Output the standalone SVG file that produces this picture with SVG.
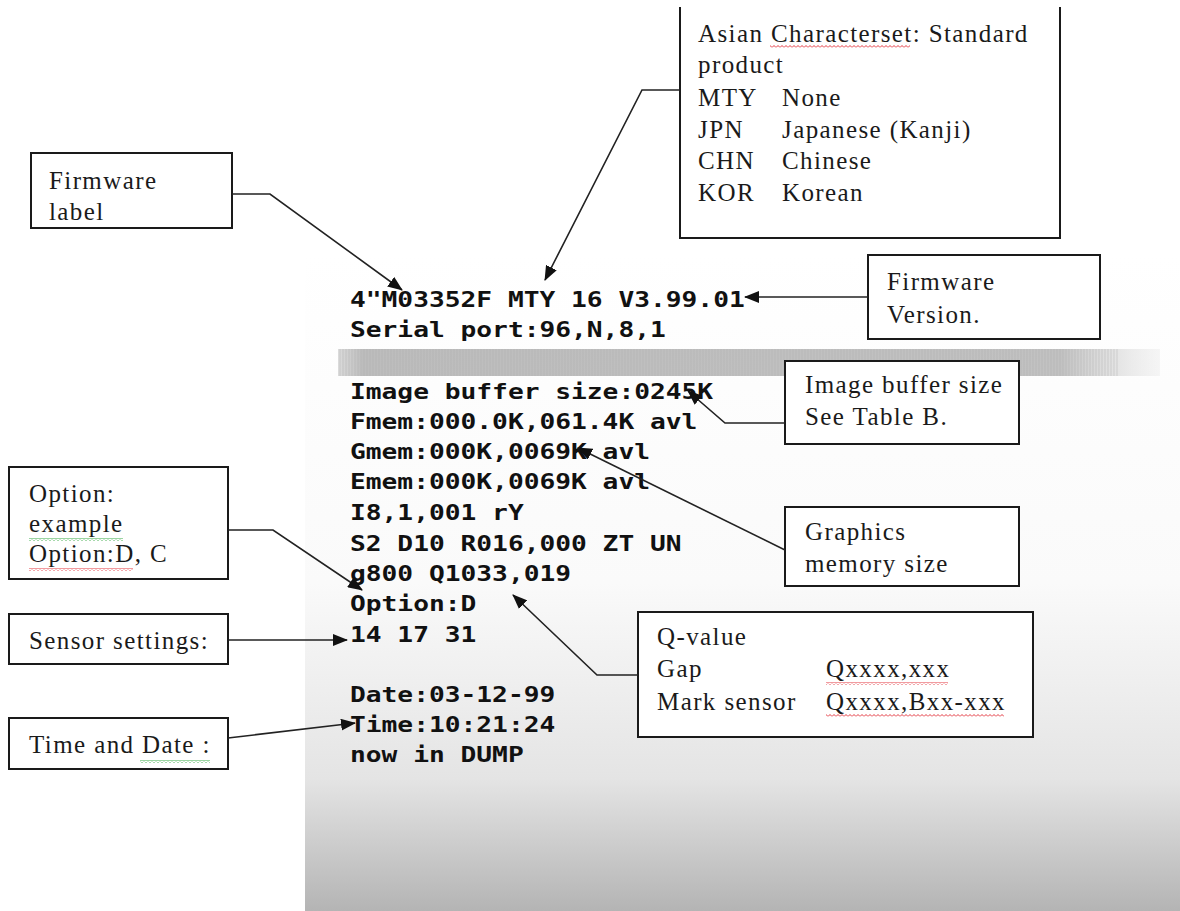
<svg xmlns="http://www.w3.org/2000/svg" width="1180" height="911" viewBox="0 0 1180 911">
<defs>
<linearGradient id="paper" x1="0" y1="0" x2="0" y2="1">
<stop offset="0" stop-color="#ffffff"/>
<stop offset="0.5" stop-color="#fafafa"/>
<stop offset="0.8" stop-color="#e4e4e4"/>
<stop offset="1" stop-color="#b4b4b4"/>
</linearGradient>
<linearGradient id="stripe" x1="0" y1="0" x2="1" y2="0">
<stop offset="0" stop-color="#c4c4c4" stop-opacity="0.6"/>
<stop offset="0.03" stop-color="#bdbdbd"/>
<stop offset="0.88" stop-color="#c2c2c2"/>
<stop offset="1" stop-color="#e2e2e2" stop-opacity="0.3"/>
</linearGradient>
<pattern id="grain" width="6" height="4" patternUnits="userSpaceOnUse">
<rect width="6" height="4" fill="none"/>
<path d="M1,0 V4 M4,0 V4" stroke="#a8a8a8" stroke-width="0.8" stroke-opacity="0.5"/>
</pattern>
<pattern id="wavyRed" width="4" height="3" patternUnits="userSpaceOnUse">
<path d="M0,2.5 L2,0.5 L4,2.5" fill="none" stroke="#e0202a" stroke-width="0.9"/>
</pattern>
<pattern id="wavyGreen" width="4" height="3" patternUnits="userSpaceOnUse">
<path d="M0,2.5 L2,0.5 L4,2.5" fill="none" stroke="#20a030" stroke-width="0.9"/>
</pattern>
<marker id="arrow" viewBox="0 0 15 12" refX="14" refY="6" markerWidth="15" markerHeight="12" markerUnits="userSpaceOnUse" orient="auto">
<path d="M0,0 L15,6 L0,12 Z" fill="#111"/>
</marker>
<style>
.box{fill:#fff;stroke:#1a1a1a;stroke-width:2}
.lbl{font-family:"Liberation Serif","Times New Roman",serif;font-size:25px;letter-spacing:1.4px;fill:#1a1a1a}
.prn{font-family:"DejaVu Sans Mono","Liberation Mono",monospace;font-weight:bold;font-size:20.5px;fill:#111}
.con{fill:none;stroke:#222;stroke-width:1.6;marker-end:url(#arrow)}
</style>
</defs>
<rect width="1180" height="911" fill="#fff"/>
<g id="paper-printout">
<rect x="305" y="255" width="875" height="656" fill="url(#paper)"/>
<rect x="338" y="349" width="822" height="27" fill="url(#stripe)"/>
<rect x="338" y="349" width="780" height="27" fill="url(#grain)"/>
<g class="prn" transform="translate(350,0) scale(1.28,1)">
<text x="0" y="307">4"M03352F MTY 16 V3.99.01</text>
<text x="0" y="337">Serial port:96,N,8,1</text>
<text x="0" y="399">Image buffer size:0245K</text>
<text x="0" y="429">Fmem:000.0K,061.4K avl</text>
<text x="0" y="459">Gmem:000K,0069K avl</text>
<text x="0" y="489">Emem:000K,0069K avl</text>
<text x="0" y="520">I8,1,001 rY</text>
<text x="0" y="551">S2 D10 R016,000 ZT UN</text>
<text x="0" y="581">g800 Q1033,019</text>
<text x="0" y="611">Option:D</text>
<text x="0" y="642">14 17 31</text>
<text x="0" y="702">Date:03-12-99</text>
<text x="0" y="732">Time:10:21:24</text>
<text x="0" y="762">now in DUMP</text>
</g>
</g>
<g id="node-asian">
<rect x="680" y="7" width="380" height="231" fill="#fff"/>
<path d="M680,7 V238 H1060 V7" fill="none" stroke="#1a1a1a" stroke-width="2"/>
<rect x="770" y="45" width="140" height="3" fill="url(#wavyRed)"/>
<text class="lbl" x="698" y="42">Asian Characterset: Standard</text>
<text class="lbl" x="698" y="73">product</text>
<text class="lbl" x="698" y="106">MTY</text><text class="lbl" x="782" y="106">None</text>
<text class="lbl" x="698" y="138">JPN</text><text class="lbl" x="782" y="138">Japanese (Kanji)</text>
<text class="lbl" x="698" y="169">CHN</text><text class="lbl" x="782" y="169">Chinese</text>
<text class="lbl" x="698" y="201">KOR</text><text class="lbl" x="782" y="201">Korean</text>
</g>
<g id="node-firmware-label">
<rect class="box" x="31" y="153" width="201" height="75"/>
<text class="lbl" x="49" y="189">Firmware</text>
<text class="lbl" x="49" y="220">label</text>
</g>
<g id="node-firmware-version">
<rect class="box" x="868" y="255" width="232" height="84"/>
<text class="lbl" x="887" y="290">Firmware</text>
<text class="lbl" x="887" y="323">Version.</text>
</g>
<g id="node-image-buffer">
<rect class="box" x="785" y="361" width="234" height="83"/>
<text class="lbl" x="805" y="393">Image buffer size</text>
<text class="lbl" x="805" y="425">See Table B.</text>
</g>
<g id="node-graphics">
<rect class="box" x="785" y="507" width="234" height="79"/>
<text class="lbl" x="805" y="540">Graphics</text>
<text class="lbl" x="805" y="572">memory size</text>
</g>
<g id="node-qvalue">
<rect class="box" x="638" y="612" width="395" height="125"/>
<rect x="826" y="682" width="122" height="3" fill="url(#wavyRed)"/>
<rect x="826" y="714" width="178" height="3" fill="url(#wavyRed)"/>
<text class="lbl" x="657" y="645">Q-value</text>
<text class="lbl" x="657" y="677">Gap</text><text class="lbl" x="826" y="677">Qxxxx,xxx</text>
<text class="lbl" x="657" y="710">Mark sensor</text><text class="lbl" x="826" y="710">Qxxxx,Bxx-xxx</text>
</g>
<g id="node-option">
<rect class="box" x="9" y="467" width="219" height="112"/>
<rect x="29" y="538" width="94" height="3" fill="url(#wavyGreen)"/>
<rect x="29" y="568" width="104" height="3" fill="url(#wavyRed)"/>
<text class="lbl" x="29" y="502">Option:</text>
<text class="lbl" x="29" y="532">example</text>
<text class="lbl" x="29" y="562">Option:D, C</text>
</g>
<g id="node-sensor">
<rect class="box" x="9" y="614" width="219" height="50"/>
<text class="lbl" x="29" y="649">Sensor settings:</text>
</g>
<g id="node-time">
<rect class="box" x="9" y="718" width="219" height="51"/>
<rect x="140" y="760" width="70" height="3" fill="url(#wavyGreen)"/>
<text class="lbl" x="29" y="753">Time and Date :</text>
</g>
<g id="connectors">
<path class="con" d="M232,194 L270,194 L402,290"/>
<path class="con" d="M680,90 L642,90 L545,280"/>
<path class="con" d="M868,297 L745,297"/>
<path class="con" d="M785,423 L725,423 L688,391"/>
<path class="con" d="M785,550 L578,448"/>
<path class="con" d="M638,675 L597,675 L513,595"/>
<path class="con" d="M228,530 L273,530 L362,590"/>
<path class="con" d="M228,640 L347,640"/>
<path class="con" d="M228,738 L355,723"/>
</g>
</svg>
